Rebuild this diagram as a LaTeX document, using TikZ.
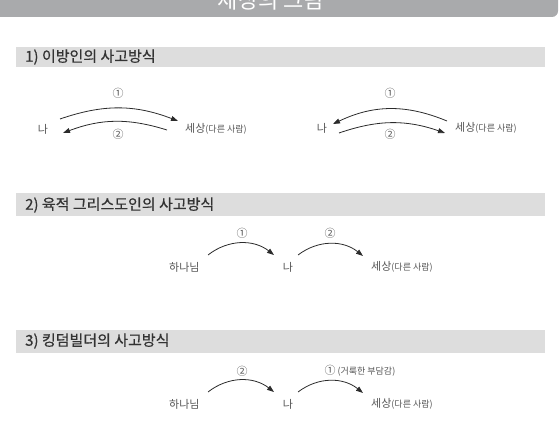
\documentclass[tikz,border=0pt]{standalone}
\usepackage{fontspec}
\setmainfont{Noto Sans CJK KR}
\newfontfamily\headfont[FakeBold=0.6]{Noto Sans CJK KR}
\usetikzlibrary{arrows.meta}

\definecolor{topgray}{HTML}{A9AAAC}
\definecolor{bargray}{HTML}{DDDDDD}
\definecolor{headink}{HTML}{333333}
\definecolor{labelink}{HTML}{555555}
\definecolor{arrowink}{HTML}{2B2B2B}

\newcommand{\paren}[1]{{\fontsize{9}{10}\selectfont(#1)}}

\tikzset{
    word/.style={inner sep=0pt, text=labelink, font=\fontsize{11}{13}\selectfont},
    num/.style={inner sep=0pt, text=labelink, font=\fontsize{11}{12}\selectfont},
    headbar/.style={fill=bargray},
    headline/.style={anchor=west, inner sep=0pt, text=headink, font=\headfont\fontsize{15}{17}\selectfont},
    curvearrow/.style={draw=arrowink, line width=0.8pt, -{Triangle[length=7pt, width=5pt]}}
}

\begin{document}
\begin{tikzpicture}[x=1pt, y=-1pt]
    \useasboundingbox (0, 0) rectangle (559, 422);
    % title bar
    \fill[topgray, rounded corners=6pt] (-10, -10) rectangle (558, 17);
    \node[anchor=base, inner sep=0pt, text=white, font=\fontsize{22}{24}\selectfont] (title) at(271, 9) {세상의 그림};

    % 1) two pairs
    \fill[headbar] (16, 47) rectangle (545, 67);
    \node[headline] (head1) at(25, 57) {1) 이방인의 사고방식};
    \node[word] (me1) at(43, 129) {나};
    \node[word, anchor=west] (world1) at(185, 129) {세상\paren{다른 사람}};
    \node[num] (one1) at(118, 93) {①};
    \node[num] (two1) at(118, 134) {②};
    \draw[curvearrow] ([shift={(17, -10)}]me1.center) to[bend left=20] ([shift={(-7, -8)}]world1.west);
    \draw[curvearrow] ([shift={(-18, 1)}]world1.west) to[bend right=19] ([shift={(20, 4)}]me1.center);

    \node[word] (me2) at(322, 128) {나};
    \node[word, anchor=west] (world2) at(455, 128) {세상\paren{다른 사람}};
    \node[num] (one2) at(390, 93) {①};
    \node[num] (two2) at(390, 134) {②};
    \draw[curvearrow] ([shift={(-8, -7)}]world2.west) to[bend right=24] ([shift={(11, -4)}]me2.center);
    \draw[curvearrow] ([shift={(17, 5)}]me2.center) to[bend left=19] ([shift={(-10, 5)}]world2.west);

    % 2)
    \fill[headbar] (16, 193) rectangle (545, 216);
    \node[headline] (head2) at(25, 205) {2) 육적 그리스도인의 사고방식};
    \node[word, anchor=west] (god1) at(169, 267) {하나님};
    \node[word] (me3) at(288, 267) {나};
    \node[word, anchor=west] (world3) at(371, 267) {세상\paren{다른 사람}};
    \node[num] (one3) at(242, 233) {①};
    \node[num] (two3) at(330, 233) {②};
    \draw[curvearrow] ([shift={(39, -12)}]god1.west) to[bend left=38] ([shift={(-14, -12)}]me3.center);
    \draw[curvearrow] ([shift={(10, -12)}]me3.center) to[bend left=38] ([shift={(-8, -11)}]world3.west);

    % 3)
    \fill[headbar] (16, 330) rectangle (545, 353);
    \node[headline] (head3) at(25, 341) {3) 킹덤빌더의 사고방식};
    \node[word, anchor=west] (god2) at(169, 404) {하나님};
    \node[word] (me4) at(288, 404) {나};
    \node[word, anchor=west] (world4) at(371, 404) {세상\paren{다른 사람}};
    \node[num] (two4) at(242, 371) {②};
    \node[num, anchor=west] (one4) at(324.5, 371) {①\,\paren{거룩한 부담감}};
    \draw[curvearrow] ([shift={(39, -12)}]god2.west) to[bend left=38] ([shift={(-14, -12)}]me4.center);
    \draw[curvearrow] ([shift={(10, -12)}]me4.center) to[bend left=38] ([shift={(-8, -11)}]world4.west);
\end{tikzpicture}
\end{document}
